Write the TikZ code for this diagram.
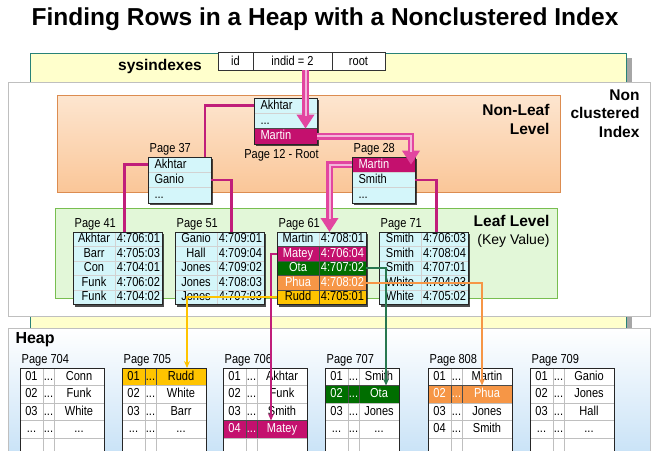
\documentclass[tikz,border=0pt]{standalone}
\usepackage{fontspec}
\setmainfont{Liberation Sans}
\newfontfamily\narrowfont[FakeStretch=0.85]{Liberation Sans}
\usetikzlibrary{arrows.meta,shadows}

\definecolor{idxcyan}{RGB}{212,246,250}
\definecolor{idxmagenta}{RGB}{196,16,110}
\definecolor{idxgreen}{RGB}{0,110,0}
\definecolor{idxorange}{RGB}{246,150,70}
\definecolor{idxgold}{RGB}{255,196,0}
\definecolor{linkpink}{RGB}{226,70,160}
\definecolor{linkmagenta}{RGB}{192,30,122}
\definecolor{linkgreen}{RGB}{40,120,80}
\definecolor{sysyellow}{RGB}{255,255,204}
\definecolor{systeal}{RGB}{40,130,120}
\definecolor{nlpeach}{RGB}{253,230,208}
\definecolor{nlorange}{RGB}{250,198,152}
\definecolor{nlborder}{RGB}{220,140,80}
\definecolor{leafgreen}{RGB}{226,247,216}
\definecolor{leafborder}{RGB}{120,190,80}
\definecolor{heapblue}{RGB}{196,224,246}

\newcommand\pagetextstyle{\fontsize{13}{13}\narrowfont}
\newcommand\labeltextstyle{\fontsize{15.5}{18.5}\bfseries}
\newcommand\keyrowheight{15.3}
\newcommand\leafrowheight{14.5}
\newcommand\heaprowheight{17.5}
\newcommand\keypagewidth{63}

\tikzset{
  pageback/.style={fill=idxcyan, inner sep=0, outer sep=0,
    drop shadow={shadow xshift=2pt, shadow yshift=-2pt, fill=black, opacity=.7}},
  heapback/.style={fill=white, inner sep=0, outer sep=0},
  pageframe/.style={draw=black!85, line width=.8pt},
  rowcell/.style={draw=gray!35, fill=idxcyan, inner sep=0, outer sep=0,
    text height=9.5pt, text depth=2.5pt, font=\pagetextstyle},
  keycell/.style={rowcell, minimum height=\keyrowheight, text width=50pt, inner xsep=6.5pt, align=left},
  leafkey/.style={rowcell, minimum height=\leafrowheight, minimum width=42},
  leafrid/.style={rowcell, minimum height=\leafrowheight, minimum width=47},
  heapslot/.style={rowcell, draw=gray!50, fill=white, minimum height=\heaprowheight, minimum width=23},
  heapdots/.style={heapslot, minimum width=11},
  heapval/.style={heapslot},
  hotmagenta/.style={fill=idxmagenta, text=white, draw=black!70},
  hotgreen/.style={fill=idxgreen, text=white, draw=black!70},
  hotorange/.style={fill=idxorange, text=white, draw=black!70},
  hotgold/.style={fill=idxgold, text=black, draw=black!70},
  syscell/.style={draw=black!80, fill=white, minimum height=18, inner sep=0, outer sep=0, font=\pagetextstyle},
  pagelabel/.style={font=\pagetextstyle, inner sep=1.5pt},
  fatlink/.style={line width=6.5pt, draw=linkpink, -{Triangle[width=17pt,length=14pt]},
    postaction={draw=linkpink!40, line width=2pt, -, shorten >=13pt}},
  treelink/.style={line width=2.5pt, draw=linkmagenta},
  ridlink/.style={line width=2pt, draw=#1, -{Stealth[length=7pt,width=6pt]}}
}

\newcommand\startpage[5]{
  \node[pageback, minimum width=#4, minimum height=#5, anchor=north west] (#1) at (#2, #3) {};
  \pgfmathparse{#2}\let\x\pgfmathresult
  \pgfmathparse{#3}\let\y\pgfmathresult
}
\newcommand\closepage[1]{
  \draw[pageframe] (#1.north west) rectangle (#1.south east);
}
\newcommand\keyrow[3][]{
  \node[keycell, #1, anchor=north west] (#2) at (\x, \y) {#3};
  \pgfmathparse{\y + \keyrowheight}\let\y\pgfmathresult
}
\newcommand\leafrow[4][]{
  \node[leafkey, #1, anchor=north west] (#2k) at (\x, \y) {#3};
  \node[leafrid, #1, anchor=north west] (#2r) at (#2k.north east) {#4};
  \pgfmathparse{\y + \leafrowheight}\let\y\pgfmathresult
}
\newcommand\startheap[4]{
  \node[heapback, minimum width=34+#4, minimum height=5*\heaprowheight, anchor=north west] (#1) at (#2, #3) {};
  \pgfmathparse{#2}\let\x\pgfmathresult
  \pgfmathparse{#3}\let\y\pgfmathresult
  \def\heapvalwidth{#4}
}
\newcommand\heaprow[5][]{
  \node[heapslot, #1, anchor=north west] (#2a) at (\x, \y) {#3};
  \node[heapdots, #1, anchor=north west] (#2b) at (#2a.north east) {#4};
  \node[heapval, #1, minimum width=\heapvalwidth, anchor=north west] (#2c) at (#2b.north east) {#5};
  \pgfmathparse{\y + \heaprowheight}\let\y\pgfmathresult
}

\begin{document}
\begin{tikzpicture}[x=1pt, y=-1pt]
  \useasboundingbox (0,0) rectangle (658,450);
  \clip (0,0) rectangle (658,450);
  \fill[white] (0,0) rectangle (658,450);

  \node[font=\fontsize{24.5}{28}\bfseries] (title) at (325,19) {Finding Rows in a Heap with a Nonclustered Index};

  \fill[gray!70] (626,58) rectangle (632,330);
  \draw[systeal, fill=sysyellow] (30,53) rectangle (626,330);
  \node[font=\labeltextstyle] (sysname) at (160,66) {sysindexes};
  \node[syscell, minimum width=35, anchor=north west] (sysid) at (218,52) {id};
  \node[syscell, minimum width=79, anchor=north west] (sysindid) at (sysid.north east) {indid = 2};
  \node[syscell, minimum width=53, anchor=north west] (sysroot) at (sysindid.north east) {root};

  \draw[gray!50, fill=white] (8,82) rectangle (650,316);
  \node[font=\labeltextstyle, align=right, anchor=north east] (ncname) at (643,86) {Non\\clustered\\Index};
  \shadedraw[top color=nlpeach, bottom color=nlorange, draw=nlborder] (57,95) rectangle (560,192);
  \node[font=\labeltextstyle, align=right, anchor=north east] (nlname) at (553,101) {Non-Leaf\\Level};
  \draw[leafborder, fill=leafgreen] (55,208) rectangle (557,298);
  \node[font=\labeltextstyle, anchor=north east] (lfname) at (553,212) {Leaf Level};
  \node[font=\fontsize{14}{16}\selectfont, anchor=north east] (lfnote) at (553,231) {(Key Value)};

  \shadedraw[top color=white, bottom color=heapblue, draw=gray!50] (8,328) rectangle (650,465);
  \node[font=\fontsize{16}{18}\bfseries, anchor=west] (heapname) at (12,340) {Heap};

  \startpage{p12}{254}{98}{\keypagewidth}{3*\keyrowheight}
  \keyrow{p12a}{Akhtar}
  \keyrow{p12b}{...}
  \keyrow[hotmagenta]{p12c}{Martin}
  \closepage{p12}
  \node[pagelabel, anchor=north] (p12label) at ([xshift=-4pt, yshift=-4pt]p12.south) {Page 12 - Root};

  \startpage{p37}{148}{157}{\keypagewidth}{3*\keyrowheight}
  \keyrow{p37a}{Akhtar}
  \keyrow{p37b}{Ganio}
  \keyrow{p37c}{...}
  \closepage{p37}
  \node[pagelabel, anchor=south west] (p37label) at (p37.north west) {Page 37};

  \startpage{p28}{352}{157}{\keypagewidth}{3*\keyrowheight}
  \keyrow[hotmagenta]{p28a}{Martin}
  \keyrow{p28b}{Smith}
  \keyrow{p28c}{...}
  \closepage{p28}
  \node[pagelabel, anchor=south west] (p28label) at (p28.north west) {Page 28};

  \startpage{p41}{73}{232}{89}{5*\leafrowheight}
  \leafrow{p41a}{Akhtar}{4:706:01}
  \leafrow{p41b}{Barr}{4:705:03}
  \leafrow{p41c}{Con}{4:704:01}
  \leafrow{p41d}{Funk}{4:706:02}
  \leafrow{p41e}{Funk}{4:704:02}
  \closepage{p41}
  \node[pagelabel, anchor=south west] (p41label) at (p41.north west) {Page 41};

  \startpage{p51}{175}{232}{89}{5*\leafrowheight}
  \leafrow{p51a}{Ganio}{4:709:01}
  \leafrow{p51b}{Hall}{4:709:04}
  \leafrow{p51c}{Jones}{4:709:02}
  \leafrow{p51d}{Jones}{4:708:03}
  \leafrow{p51e}{Jones}{4:707:03}
  \closepage{p51}
  \node[pagelabel, anchor=south west] (p51label) at (p51.north west) {Page 51};

  \startpage{p61}{277}{232}{89}{5*\leafrowheight}
  \leafrow{p61a}{Martin}{4:708:01}
  \leafrow[hotmagenta]{p61b}{Matey}{4:706:04}
  \leafrow[hotgreen]{p61c}{Ota}{4:707:02}
  \leafrow[hotorange]{p61d}{Phua}{4:708:02}
  \leafrow[hotgold]{p61e}{Rudd}{4:705:01}
  \closepage{p61}
  \node[pagelabel, anchor=south west] (p61label) at (p61.north west) {Page 61};

  \startpage{p71}{379}{232}{89}{5*\leafrowheight}
  \leafrow{p71a}{Smith}{4:706:03}
  \leafrow{p71b}{Smith}{4:708:04}
  \leafrow{p71c}{Smith}{4:707:01}
  \leafrow{p71d}{White}{4:704:03}
  \leafrow{p71e}{White}{4:705:02}
  \closepage{p71}
  \node[pagelabel, anchor=south west] (p71label) at (p71.north west) {Page 71};

  \startheap{h704}{20}{368}{50}
  \heaprow{h704a}{01}{...}{Conn}
  \heaprow{h704b}{02}{...}{Funk}
  \heaprow{h704c}{03}{...}{White}
  \heaprow{h704d}{...}{...}{...}
  \heaprow{h704e}{}{}{}
  \closepage{h704}
  \node[pagelabel, anchor=south west] (h704label) at (h704.north west) {Page 704};

  \startheap{h705}{122}{368}{50}
  \heaprow[hotgold]{h705a}{01}{...}{Rudd}
  \heaprow{h705b}{02}{...}{White}
  \heaprow{h705c}{03}{...}{Barr}
  \heaprow{h705d}{...}{...}{...}
  \heaprow{h705e}{}{}{}
  \closepage{h705}
  \node[pagelabel, anchor=south west] (h705label) at (h705.north west) {Page 705};

  \startheap{h706}{223}{368}{50}
  \heaprow{h706a}{01}{...}{Akhtar}
  \heaprow{h706b}{02}{...}{Funk}
  \heaprow{h706c}{03}{...}{Smith}
  \heaprow[hotmagenta]{h706d}{04}{...}{Matey}
  \heaprow{h706e}{}{}{}
  \closepage{h706}
  \node[pagelabel, anchor=south west] (h706label) at (h706.north west) {Page 706};

  \startheap{h707}{325}{368}{40}
  \heaprow{h707a}{01}{...}{Smith}
  \heaprow[hotgreen]{h707b}{02}{...}{Ota}
  \heaprow{h707c}{03}{...}{Jones}
  \heaprow{h707d}{...}{...}{...}
  \heaprow{h707e}{}{}{}
  \closepage{h707}
  \node[pagelabel, anchor=south west] (h707label) at (h707.north west) {Page 707};

  \startheap{h808}{428}{368}{50}
  \heaprow{h808a}{01}{...}{Martin}
  \heaprow[hotorange]{h808b}{02}{...}{Phua}
  \heaprow{h808c}{03}{...}{Jones}
  \heaprow{h808d}{04}{...}{Smith}
  \heaprow{h808e}{}{}{}
  \closepage{h808}
  \node[pagelabel, anchor=south west] (h808label) at (h808.north west) {Page 808};

  \startheap{h709}{530}{368}{50}
  \heaprow{h709a}{01}{...}{Ganio}
  \heaprow{h709b}{02}{...}{Jones}
  \heaprow{h709c}{03}{...}{Hall}
  \heaprow{h709d}{...}{...}{...}
  \heaprow{h709e}{}{}{}
  \closepage{h709}
  \node[pagelabel, anchor=south west] (h709label) at (h709.north west) {Page 709};

  \draw[treelink] (p12a.west) -| ([xshift=-6pt]p37.north east);
  \draw[treelink] (p37a.west) -| ([xshift=7pt]p41.north);
  \draw[treelink] (p37b.east) -| ([xshift=12pt]p51.north);
  \draw[treelink] (p28b.east) -| ([xshift=13pt]p71.north);

  \draw[fatlink] ([xshift=13pt]sysindid.south) -- ([xshift=13pt]sysindid.south |- p12c.north);
  \draw[fatlink] (p12c.east) -| ([xshift=-4pt]p28a.east);
  \draw[fatlink] (p28a.west) -| ([xshift=8pt]p61.north);

  \draw[ridlink=linkmagenta] (p61bk.west) -| ([xshift=-11pt]h706dc.north);
  \draw[ridlink=idxgold] (p61ek.west) -| ([xshift=6pt]h705ac.north);
  \draw[ridlink=linkgreen] (p61cr.east) -| ([xshift=7pt]h707bc.north);
  \draw[ridlink=idxorange] (p61dr.east) -| ([xshift=-5pt]h808bc.north);
\end{tikzpicture}
\end{document}
